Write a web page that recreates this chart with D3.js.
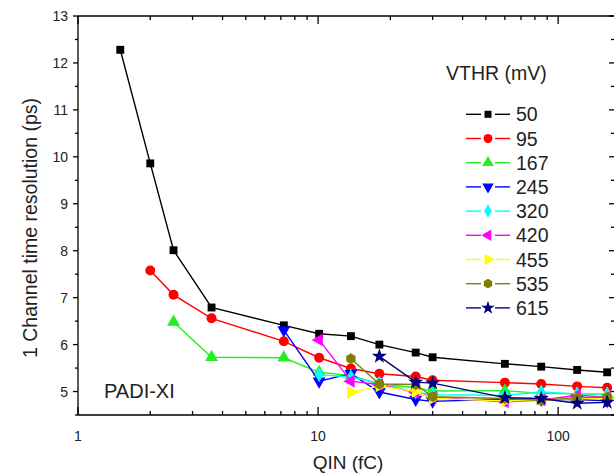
<!DOCTYPE html>
<html>
<head>
<meta charset="utf-8">
<script src="https://cdn.jsdelivr.net/npm/d3@7"></script>
<style>
  body { margin: 0; background: #fff; }
  text { font-family: Arial, "Liberation Sans", sans-serif; fill: #222; }
</style>
</head>
<body>
<div id="chart"></div>
<script>
// QIN (fC) sample points
const qin = [1.5, 2, 2.5, 3.6, 7.2, 10.1, 13.7, 18, 25.5, 30, 60, 85, 120, 160];

// time resolution (ps) per threshold, null = not measured
const vthr50  = [12.28, 9.86, 8.01, 6.79, 6.41, 6.23, 6.18, 6.00, 5.83, 5.73, 5.59, 5.53, 5.46, 5.41];
const vthr95  = [null, 7.58, 7.06, 6.56, 6.07, 5.72, 5.49, 5.38, 5.32, 5.24, 5.19, 5.16, 5.11, 5.08];
const vthr167 = [null, null, 6.48, 5.73, 5.72, 5.41, 5.34, 5.16, 5.08, 5.01, 5.02, 4.96, 4.95, 4.94];
const vthr245 = [null, null, null, null, 6.31, 5.22, 5.38, 4.99, 4.83, 4.79, 4.84, 4.83, 4.83, 4.80];
const vthr320 = [null, null, null, null, null, 5.36, 5.31, 5.18, 4.99, 4.93, 4.92, 4.99, 4.95, 4.95];
const vthr420 = [null, null, null, null, null, 6.10, 5.22, 5.15, 4.98, 4.88, 4.78, 4.82, 4.92, 4.88];
const vthr455 = [null, null, null, null, null, null, 4.98, 5.12, 5.00, 4.85, 4.80, 4.82, 4.85, 4.85];
const vthr535 = [null, null, null, null, null, null, 5.70, 5.16, 5.15, 4.89, 4.85, 4.81, 4.87, 4.88];
const vthr615 = [null, null, null, null, null, null, null, 5.75, 5.20, 5.18, 4.87, 4.85, 4.75, 4.77];

const seriesNames = ['50', '95', '167', '245', '320', '420', '455', '535', '615'];
const seriesValues = [vthr50, vthr95, vthr167, vthr245, vthr320, vthr420, vthr455, vthr535, vthr615];
const colors = ['#000000', '#ff0000', '#22ee22', '#0000ff', '#00ffff', '#ff00ff', '#ffff00', '#808000', '#000080'];

const yTicks = [5, 6, 7, 8, 9, 10, 11, 12, 13];
const xTicks = [1, 10, 100];

const width = 614, height = 474;
const svg = d3.select('#chart')
  .append('svg')
  .attr('width', width)
  .attr('height', height);

const x = d3.scaleLog().domain([1, 172.5]).range([78, 615]);
const y = d3.scaleLinear().domain([4.5, 13]).range([415, 16]);

// custom hexagon symbol
const symbolHexagon = {
  draw(context, size) {
    const r = Math.sqrt(size / (1.5 * Math.sqrt(3)));
    for (let i = 0; i < 6; i++) {
      const a = Math.PI / 6 + i * Math.PI / 3;
      const px = r * Math.cos(a), py = r * Math.sin(a);
      if (i === 0) context.moveTo(px, py); else context.lineTo(px, py);
    }
    context.closePath();
  }
};

const shapes = [
  { type: d3.symbolSquare, size: 62, rot: 0 },
  { type: d3.symbolCircle, size: 78, rot: 0 },
  { type: d3.symbolTriangle, size: 72, rot: 0 },
  { type: d3.symbolTriangle, size: 72, rot: 180 },
  { type: d3.symbolDiamond, size: 66, rot: 0 },
  { type: d3.symbolTriangle, size: 72, rot: -90 },
  { type: d3.symbolTriangle, size: 72, rot: 90 },
  { type: symbolHexagon, size: 76, rot: 0 },
  { type: d3.symbolStar, size: 72, rot: 0 }
];

// minor log ticks
const xMinor = [];
[1, 10, 100].forEach(dec => {
  for (let k = 2; k <= 9; k++) {
    const v = dec * k;
    if (v <= 172.5) xMinor.push(v);
  }
});
const yMinor = d3.range(4.5, 13, 1);

const axes = svg.append('g').attr('stroke', '#000').attr('stroke-width', 1.3);

// frame lines (right axis falls just outside the picture)
axes.append('line').attr('x1', 78).attr('x2', 615).attr('y1', 415).attr('y2', 415);
axes.append('line').attr('x1', 78).attr('x2', 615).attr('y1', 16).attr('y2', 16);
axes.append('line').attr('x1', 78).attr('x2', 78).attr('y1', 16).attr('y2', 415);

// bottom and top ticks (inward)
xTicks.forEach(v => {
  axes.append('line').attr('x1', x(v)).attr('x2', x(v)).attr('y1', 415).attr('y2', 407);
  axes.append('line').attr('x1', x(v)).attr('x2', x(v)).attr('y1', 16).attr('y2', 24);
});
xMinor.forEach(v => {
  axes.append('line').attr('x1', x(v)).attr('x2', x(v)).attr('y1', 415).attr('y2', 411);
  axes.append('line').attr('x1', x(v)).attr('x2', x(v)).attr('y1', 16).attr('y2', 20);
});

// left ticks (outward) and right ticks (inward)
yTicks.forEach(v => {
  axes.append('line').attr('x1', 78).attr('x2', 73).attr('y1', y(v)).attr('y2', y(v));
  axes.append('line').attr('x1', 615).attr('x2', 609).attr('y1', y(v)).attr('y2', y(v));
});
yMinor.forEach(v => {
  axes.append('line').attr('x1', 78).attr('x2', 75).attr('y1', y(v)).attr('y2', y(v));
  axes.append('line').attr('x1', 615).attr('x2', 611).attr('y1', y(v)).attr('y2', y(v));
});

svg.selectAll('.ylab')
  .data(yTicks)
  .enter()
  .append('text')
  .attr('class', 'ylab')
  .attr('x', 68)
  .attr('y', d => y(d) + 5)
  .attr('text-anchor', 'end')
  .style('font-size', '14px')
  .text(d => d);

svg.selectAll('.xlab')
  .data(xTicks)
  .enter()
  .append('text')
  .attr('class', 'xlab')
  .attr('x', d => x(d))
  .attr('y', 441)
  .attr('text-anchor', 'middle')
  .style('font-size', '14px')
  .text(d => d);

svg.append('text')
  .attr('x', 348)
  .attr('y', 469)
  .attr('text-anchor', 'middle')
  .style('font-size', '19px')
  .text('QIN (fC)');

svg.append('text')
  .attr('transform', 'translate(37, 228) rotate(-90)')
  .attr('text-anchor', 'middle')
  .style('font-size', '19.5px')
  .text('1 Channel time resolution (ps)');

svg.append('text')
  .attr('x', 104)
  .attr('y', 398)
  .style('font-size', '20px')
  .text('PADI-XI');

// series
const line = d3.line()
  .defined(d => d[1] !== null)
  .x(d => x(d[0]))
  .y(d => y(d[1]));

const plot = svg.append('g');

seriesValues.forEach((vals, i) => {
  const pts = qin.map((q, j) => [q, vals[j]]);
  plot.append('path')
    .attr('fill', 'none')
    .attr('stroke', colors[i])
    .attr('stroke-width', 1.4)
    .attr('d', line(pts));

  const sym = d3.symbol().type(shapes[i].type).size(shapes[i].size);
  plot.selectAll('.m' + i)
    .data(pts.filter(d => d[1] !== null))
    .enter()
    .append('path')
    .attr('class', 'm' + i)
    .attr('transform', d => `translate(${x(d[0])}, ${y(d[1])}) rotate(${shapes[i].rot})`)
    .attr('fill', colors[i])
    .attr('d', sym());
});

// legend
svg.append('text')
  .attr('x', 446)
  .attr('y', 80)
  .style('font-size', '19.5px')
  .text('VTHR (mV)');

const legend = svg.selectAll('.legend')
  .data(seriesNames)
  .enter()
  .append('g')
  .attr('class', 'legend')
  .attr('transform', (d, i) => `translate(488, ${114.3 + i * 24.2})`);

legend.append('line')
  .attr('x1', -22).attr('x2', -7).attr('y1', 0).attr('y2', 0)
  .attr('stroke', (d, i) => colors[i]).attr('stroke-width', 1.4);
legend.append('line')
  .attr('x1', 7).attr('x2', 22).attr('y1', 0).attr('y2', 0)
  .attr('stroke', (d, i) => colors[i]).attr('stroke-width', 1.4);
legend.append('path')
  .attr('transform', (d, i) => `rotate(${shapes[i].rot})`)
  .attr('fill', (d, i) => colors[i])
  .attr('d', (d, i) => d3.symbol().type(shapes[i].type).size(shapes[i].size * 0.8)());
legend.append('text')
  .attr('x', 28)
  .attr('y', 7)
  .style('font-size', '19.5px')
  .text(d => d);
</script>
</body>
</html>
